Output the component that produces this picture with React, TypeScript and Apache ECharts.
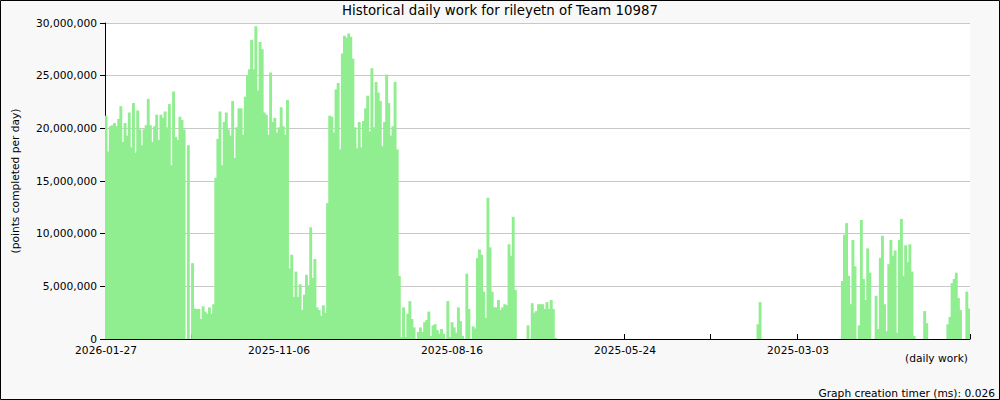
import React, { useEffect, useRef } from 'react';
import * as echarts from 'echarts';

// Tick labels on the x axis (one every 82 bars; newest day on the left)
const tickLabels = ['2026-01-27', '2025-11-06', '2025-08-16', '2025-05-24', '2025-03-03'];
const barsPerLabel = 82;
const barsPerTick = 41;

// Daily points, in millions, newest first, in blocks of 82 days
const fromJan27 = [
  21.2, 17.8, 20.2, 20.3, 20.5, 20.2, 20.9, 22.1, 18.7, 20.5,
  19.3, 21.5, 18.2, 22.4, 17.7, 21.7, 19.9, 18.4, 19.9, 20.3,
  22.8, 20.3, 18.7, 20.2, 21.3, 18.9, 21.3, 21.0, 21.6, 20.1,
  22.3, 16.5, 23.5, 19.2, 18.9, 21.1, 20.8, 19.9, 0, 18.4,
  0, 7.2, 2.9, 2.85, 2.85, 1.9, 3.1, 2.6, 2.4, 3.0,
  2.4, 3.3, 15.3, 19.0, 21.6, 16.5, 20.6, 21.5, 19.9, 19.3,
  22.6, 17.2, 20.1, 21.9, 21.9, 19.4, 23.0, 25.0, 25.6, 28.4,
  25.6, 29.7, 23.6, 28.2, 27.5, 21.5, 21.3, 19.4, 25.3, 20.6,
  21.0, 19.6,
];
const fromNov06 = [
  20.1, 22.0, 20.2, 19.4, 22.7, 6.7, 8.0, 4.0, 6.4, 4.0,
  5.2, 2.75, 4.2, 6.1, 5.1, 10.6, 5.8, 7.6, 3.0, 2.75,
  2.2, 3.2, 2.5, 12.9, 21.2, 21.1, 19.6, 23.7, 24.3, 18.0,
  27.1, 28.8, 28.6, 29.0, 28.7, 26.6, 20.1, 18.1, 20.6, 18.2,
  20.7, 21.9, 23.1, 19.7, 25.7, 20.1, 24.4, 23.4, 22.6, 18.3,
  20.6, 25.1, 22.4, 19.3, 20.2, 24.4, 18.0, 6.0, 0.2, 3.0,
  0.2, 2.4, 3.6, 1.9, 1.1, 0, 0.66, 1.1, 0.66, 1.6,
  1.8, 2.6, 0.3, 1.3, 1.4, 0.85, 0.5, 0.95, 0.5, 0,
  3.6, 0.2,
];
const fromAug16 = [
  1.6, 1.1, 0.6, 3.0, 1.7, 0.3, 0, 6.2, 2.85, 0,
  1.2, 1.0, 7.7, 8.5, 8.0, 4.5, 2.0, 13.4, 8.7, 4.5,
  3.0, 3.0, 3.7, 2.75, 3.0, 3.3, 3.2, 9.0, 7.9, 11.6,
  4.65, 0, 0, 0, 0, 0, 1.3, 0, 3.4, 2.5,
  2.65, 3.3, 3.3, 3.3, 2.85, 3.5, 2.85, 3.7, 2.85, 0.1,
  0, 0, 0, 0, 0, 0, 0, 0, 0, 0,
  0, 0, 0, 0, 0, 0, 0, 0, 0, 0,
  0, 0, 0, 0, 0, 0, 0, 0, 0, 0,
  0, 0,
];
const fromMay24 = [
  0, 0, 0, 0, 0, 0, 0, 0, 0, 0,
  0, 0, 0, 0, 0, 0, 0, 0, 0, 0,
  0, 0, 0, 0, 0, 0, 0, 0, 0, 0,
  0, 0, 0, 0, 0, 0, 0, 0, 0, 0,
  0, 0, 0, 0, 0, 0, 0, 0, 0, 0,
  0, 0, 0, 0, 0, 0, 0, 0, 0, 0,
  0, 0, 0, 1.4, 3.5, 0, 0, 0, 0, 0,
  0, 0, 0, 0, 0, 0, 0, 0, 0, 0,
  0, 0,
];
const fromMar03 = [
  0, 0, 0, 0, 0, 0, 0, 0, 0, 0,
  0, 0, 0, 0, 0, 0, 0, 0, 0, 0,
  0, 5.5, 9.9, 11.0, 6.0, 3.3, 9.4, 6.9, 0, 1.3,
  11.3, 5.7, 3.7, 8.6, 6.3, 0, 0, 4.1, 0.95, 7.7,
  9.8, 3.3, 0.75, 7.1, 9.4, 7.9, 8.4, 0.6, 9.4, 11.4,
  6.0, 8.9, 7.3, 9.0, 6.4, 0.3, 0, 0, 0, 0,
  2.65, 1.5, 0, 0, 0, 0, 0, 0, 0, 0,
  0, 1.4, 2.1, 5.3, 5.7, 6.3, 3.9, 2.75, 0, 0,
  4.5, 2.9,
];

const FONT = 'DejaVu Sans';
const BAR_GREEN = '#90ee90';

export default function App() {
  const ref = useRef<HTMLDivElement>(null);
  useEffect(() => {
    const chart = echarts.init(ref.current as HTMLDivElement, null, { renderer: 'svg' });
    const values = [...fromJan27, ...fromNov06, ...fromAug16, ...fromMay24, ...fromMar03];
    const categories = values.map((_, i) => String(i));
    chart.setOption({
      animation: false,
      backgroundColor: '#f8f8f8',
      textStyle: { fontFamily: FONT },
      title: {
        text: 'Historical daily work for rileyetn of Team 10987',
        left: 'center',
        top: 4,
        padding: 0,
        textStyle: { fontFamily: FONT, fontSize: 13.33, fontWeight: 'normal', color: '#000' },
      },
      grid: {
        left: 105, top: 23, width: 865, height: 316,
        show: true, backgroundColor: '#ffffff', borderWidth: 0,
      },
      xAxis: {
        type: 'category',
        data: categories,
        boundaryGap: true,
        axisLine: { show: true, lineStyle: { color: '#000', width: 1 } },
        axisTick: { show: true, inside: true, length: 5, interval: barsPerTick - 1, lineStyle: { color: '#000' } },
        axisLabel: {
          interval: barsPerLabel - 1,
          formatter: (_v: string, idx: number) => tickLabels[idx / barsPerLabel] ?? '',
          fontFamily: FONT, fontSize: 10.67, color: '#000', margin: 6,
        },
        splitLine: { show: false },
      },
      yAxis: {
        type: 'value',
        min: 0, max: 30, interval: 5,
        name: '(points completed per day)',
        nameLocation: 'middle',
        nameGap: 84,
        nameTextStyle: { fontFamily: FONT, fontSize: 10.67, color: '#000' },
        axisLine: { show: true, lineStyle: { color: '#000', width: 1 } },
        axisTick: { show: true, length: 5, lineStyle: { color: '#000' } },
        splitLine: { show: true, lineStyle: { color: '#c8c8c8', width: 1 } },
        axisLabel: {
          formatter: (v: number) => Math.round(v * 1e6).toLocaleString('en-US'),
          fontFamily: FONT, fontSize: 10.67, color: '#000', margin: 8,
        },
      },
      series: [{
        type: 'bar',
        data: values,
        barWidth: 2.9,
        itemStyle: { color: BAR_GREEN },
      }],
      graphic: [
        {
          type: 'rect', silent: true, z: 100,
          shape: { x: 0.5, y: 0.5, width: 999, height: 399 },
          style: { fill: 'none', stroke: '#000', lineWidth: 1 },
        },
        {
          type: 'text', x: 968, y: 358,
          style: { text: '(daily work)', fontFamily: FONT, fontSize: 10.67, fill: '#000', textAlign: 'right', textVerticalAlign: 'middle' },
        },
        {
          type: 'text', x: 995, y: 393,
          style: { text: 'Graph creation timer (ms): 0.026', fontFamily: FONT, fontSize: 10.67, fill: '#000', textAlign: 'right', textVerticalAlign: 'middle' },
        },
      ],
    });
    return () => chart.dispose();
  }, []);
  return <div ref={ref} style={{ position: 'fixed', left: 0, top: 0, width: 1000, height: 400 }} />;
}
